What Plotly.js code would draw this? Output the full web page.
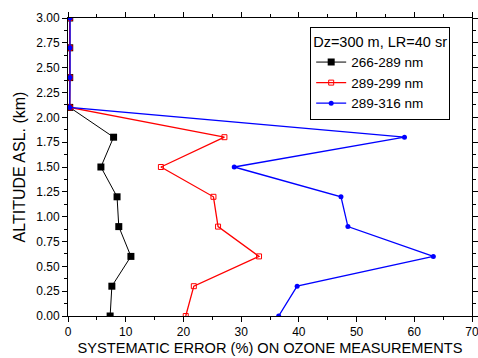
<!DOCTYPE html>
<html><head><meta charset="utf-8">
<script src="https://cdn.plot.ly/plotly-3.0.1.min.js"></script>
<style>body{margin:0;background:#fff}#c{width:478px;height:358px}</style>
</head><body><div id="c"></div>
<script>
const altitude = [0, 0.3, 0.6, 0.9, 1.2, 1.5, 1.8, 2.1, 2.4, 2.7, 3.0];
const err266_289 = [7.3, 7.6, 10.9, 8.8, 8.5, 5.7, 7.9, 0.3, 0.3, 0.3, 0.3];
const err289_299 = [20.4, 21.8, 33.1, 26.0, 25.2, 16.1, 27.1, 0.3, 0.3, 0.3, 0.3];
const err289_316 = [36.5, 39.7, 63.3, 48.5, 47.3, 28.8, 58.3, 0.3, 0.35, 0.35, 0.35];
const seriesNames = ['266-289 nm', '289-299 nm', '289-316 nm'];
const legendTitle = 'Dz=300 m, LR=40 sr';
const yTicks = [0, 0.25, 0.5, 0.75, 1.0, 1.25, 1.5, 1.75, 2.0, 2.25, 2.5, 2.75, 3.0];

const traces = [
  {x: err266_289, y: altitude, name: seriesNames[0], mode: 'lines+markers',
   line: {color: '#000000', width: 1}, marker: {symbol: 'square', size: 7, color: '#000000'}},
  {x: err289_299, y: altitude, name: seriesNames[1], mode: 'lines+markers',
   line: {color: '#ff0000', width: 1.3}, marker: {symbol: 'square-open', size: 5, color: '#ff0000', line: {width: 1}}},
  {x: err289_316, y: altitude, name: seriesNames[2], mode: 'lines+markers',
   line: {color: '#0000ff', width: 1.3}, marker: {symbol: 'circle', size: 5, color: '#0000ff'}}
];

const fam = 'Liberation Sans, Arial, sans-serif';
const axisFont = {family: fam, size: 12, color: '#000'};
const layout = {
  width: 478, height: 358,
  margin: {l: 68, r: 6, t: 18, b: 42},
  paper_bgcolor: '#fff', plot_bgcolor: '#fff',
  showlegend: true,
  font: {family: fam, color: '#000'},
  xaxis: {
    range: [0, 70], dtick: 10, tick0: 0, showgrid: false, zeroline: false,
    showline: true, linecolor: '#000', linewidth: 1, mirror: 'ticks',
    ticks: 'outside', ticklen: 5, tickcolor: '#000', tickfont: axisFont,
    ticklabeloverflow: 'allow',
    minor: {dtick: 5, ticks: 'outside', ticklen: 3, tickcolor: '#000'},
    title: {text: 'SYSTEMATIC ERROR (%) ON OZONE MEASUREMENTS', font: {size: 14.6, family: fam}, standoff: 4}
  },
  yaxis: {
    range: [0, 3], tickvals: yTicks, ticktext: yTicks.map(v => v.toFixed(2)),
    showgrid: false, zeroline: false,
    showline: true, linecolor: '#000', linewidth: 1, mirror: 'ticks',
    ticks: 'outside', ticklen: 5, tickcolor: '#000', tickfont: axisFont,
    minor: {dtick: 0.125, tick0: 0, ticks: 'outside', ticklen: 3, tickcolor: '#000'},
    title: {text: 'ALTITUDE ASL. (km)', font: {size: 16, family: fam}, standoff: 6}
  },
  legend: {
    x: 0.946, y: 0.97, xanchor: 'right', yanchor: 'top',
    bordercolor: '#000', borderwidth: 1, bgcolor: '#fff',
    font: {size: 13.5, family: fam},
    title: {text: legendTitle, font: {size: 14.5}},
    tracegroupgap: 0, itemwidth: 30
  }
};
Plotly.newPlot('c', traces, layout, {staticPlot: true, displayModeBar: false});
</script></body></html>
